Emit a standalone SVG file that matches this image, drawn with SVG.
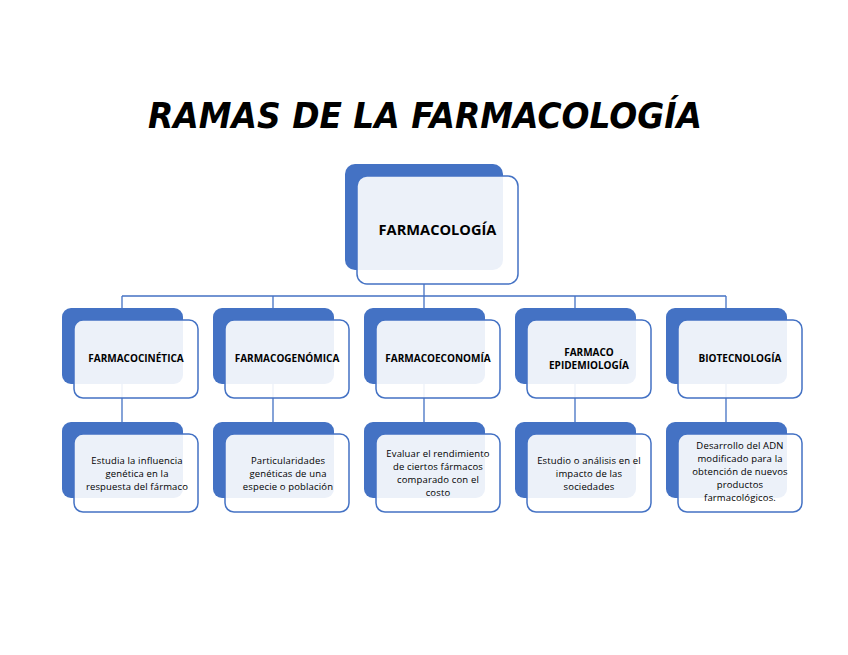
<svg xmlns="http://www.w3.org/2000/svg" width="848" height="655" viewBox="0 0 848 655">
<style>
.bg{fill:#ffffff}
.back{fill:#4472c4}
.front{fill:#ffffff;fill-opacity:0.9;stroke:#4472c4;stroke-width:1.5}
.conn{fill:none;stroke:#4472c4;stroke-width:1.3}
.t1{font-family:"Open Sans","Liberation Sans",sans-serif;font-weight:bold;font-size:14.6px;fill:#000;text-anchor:middle}
.t2{font-family:"Open Sans","Liberation Sans",sans-serif;font-weight:bold;font-size:10px;fill:#000;text-anchor:middle}
.t3{font-family:"Open Sans","Liberation Sans",sans-serif;font-size:9.5px;letter-spacing:0.15px;fill:#000;text-anchor:middle}
.title{font-family:"DejaVu Sans","Liberation Sans",sans-serif;font-weight:bold;font-style:italic;font-size:36px;fill:#000;text-anchor:middle}
</style>
<rect class="bg" x="0" y="0" width="848" height="655"/>
<text class="title" x="425" y="128" textLength="554" lengthAdjust="spacingAndGlyphs">RAMAS DE LA FARMACOLOGÍA</text>
<g id="connectors">
<path class="conn" d="M424 284V296M122 296H726M122 296V434M273 296V434M424 296V434M575 296V434M726 296V434"/>
</g>
<g id="farmacologia">
<rect class="back" x="345" y="164" width="158" height="106" rx="10"/>
<rect class="front" x="357" y="176" width="161" height="108" rx="10"/>
<text class="t1" x="437.5" y="235">FARMACOLOGÍA</text>
</g>
<g id="farmacocinetica">
<rect class="back" x="62" y="308" width="121" height="76" rx="9"/>
<rect class="front" x="74" y="320" width="124" height="78" rx="9"/>
<text class="t2" x="136" y="362">FARMACOCINÉTICA</text>
</g>
<g id="farmacogenomica">
<rect class="back" x="213" y="308" width="121" height="76" rx="9"/>
<rect class="front" x="225" y="320" width="124" height="78" rx="9"/>
<text class="t2" x="287" y="362">FARMACOGENÓMICA</text>
</g>
<g id="farmacoeconomia">
<rect class="back" x="364" y="308" width="121" height="76" rx="9"/>
<rect class="front" x="376" y="320" width="124" height="78" rx="9"/>
<text class="t2" x="438" y="362">FARMACOECONOMÍA</text>
</g>
<g id="farmacoepidemiologia">
<rect class="back" x="515" y="308" width="121" height="76" rx="9"/>
<rect class="front" x="527" y="320" width="124" height="78" rx="9"/>
<text class="t2" x="589" y="356">FARMACO</text>
<text class="t2" x="589" y="369">EPIDEMIOLOGÍA</text>
</g>
<g id="biotecnologia">
<rect class="back" x="666" y="308" width="121" height="76" rx="9"/>
<rect class="front" x="678" y="320" width="124" height="78" rx="9"/>
<text class="t2" x="740" y="362">BIOTECNOLOGÍA</text>
</g>
<g id="desc-farmacocinetica">
<rect class="back" x="62" y="422" width="121" height="76" rx="9"/>
<rect class="front" x="74" y="434" width="124" height="78" rx="9"/>
<text class="t3" x="137" y="464">Estudia la influencia</text>
<text class="t3" x="137" y="477">genética en la</text>
<text class="t3" x="137" y="490">respuesta del fármaco</text>
</g>
<g id="desc-farmacogenomica">
<rect class="back" x="213" y="422" width="121" height="76" rx="9"/>
<rect class="front" x="225" y="434" width="124" height="78" rx="9"/>
<text class="t3" x="288" y="464">Particularidades</text>
<text class="t3" x="288" y="477">genéticas de una</text>
<text class="t3" x="288" y="490">especie o población</text>
</g>
<g id="desc-farmacoeconomia">
<rect class="back" x="364" y="422" width="121" height="76" rx="9"/>
<rect class="front" x="376" y="434" width="124" height="78" rx="9"/>
<text class="t3" x="438" y="457">Evaluar el rendimiento</text>
<text class="t3" x="438" y="470">de ciertos fármacos</text>
<text class="t3" x="438" y="483">comparado con el</text>
<text class="t3" x="438" y="496">costo</text>
</g>
<g id="desc-farmacoepidemiologia">
<rect class="back" x="515" y="422" width="121" height="76" rx="9"/>
<rect class="front" x="527" y="434" width="124" height="78" rx="9"/>
<text class="t3" x="589" y="464">Estudio o análisis en el</text>
<text class="t3" x="589" y="477">impacto de las</text>
<text class="t3" x="589" y="490">sociedades</text>
</g>
<g id="desc-biotecnologia">
<rect class="back" x="666" y="422" width="121" height="76" rx="9"/>
<rect class="front" x="678" y="434" width="124" height="78" rx="9"/>
<text class="t3" x="740" y="449">Desarrollo del ADN</text>
<text class="t3" x="740" y="462">modificado para la</text>
<text class="t3" x="740" y="475">obtención de nuevos</text>
<text class="t3" x="740" y="488">productos</text>
<text class="t3" x="740" y="501">farmacológicos.</text>
</g>
</svg>
